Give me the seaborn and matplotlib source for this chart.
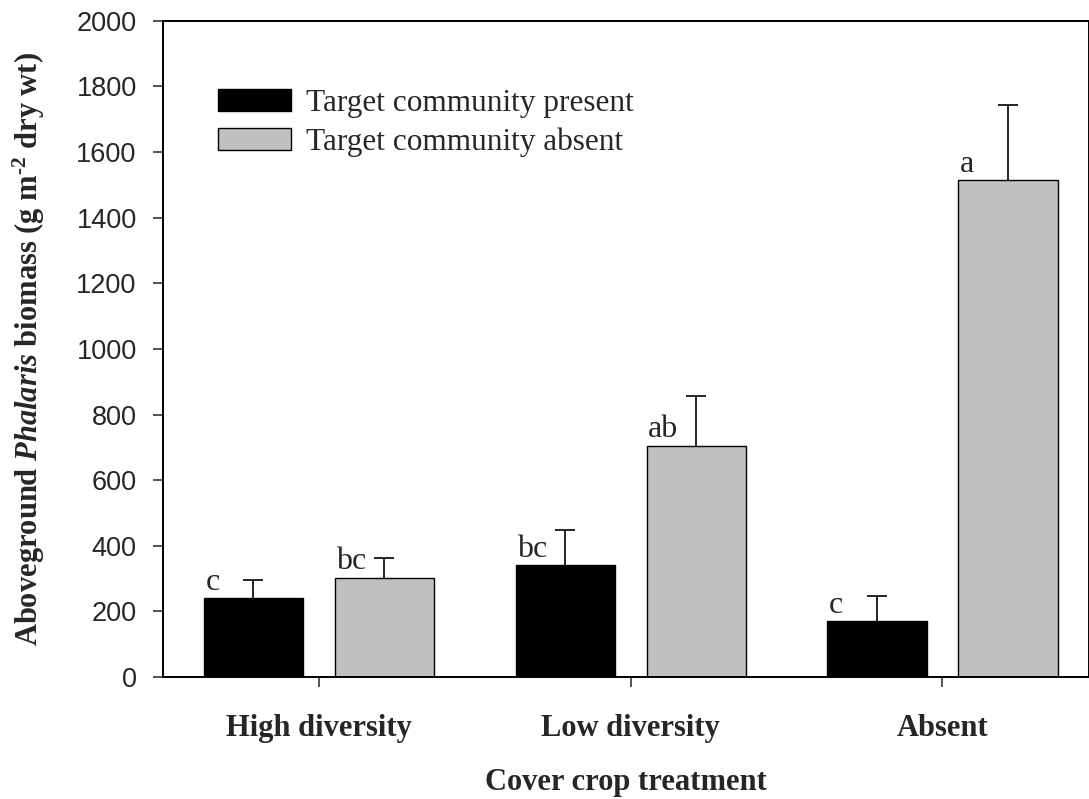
import numpy as np
import pandas as pd
import matplotlib
matplotlib.use('Agg')
import matplotlib.pyplot as plt
from matplotlib.patches import Patch
import seaborn as sns

# ── Data ─────────────────────────────────────────────────────
treatments = ['High diversity', 'Low diversity', 'Absent']
groups = ['Target community present', 'Target community absent']
present_mean = [240, 340, 170]
present_se = [56, 108, 77]
absent_mean = [303, 705, 1515]
absent_se = [59, 150, 228]
present_letters = ['c', 'bc', 'c']
absent_letters = ['bc', 'ab', 'a']
colors = ['black', '#C0C0C0']

df = pd.DataFrame({
    'treatment': treatments * 2,
    'group': [groups[0]] * 3 + [groups[1]] * 3,
    'biomass': present_mean + absent_mean,
})
errs = [present_se, absent_se]
letters = [present_letters, absent_letters]

sns.set_style('ticks')
plt.rcParams['mathtext.fontset'] = 'custom'
plt.rcParams['mathtext.rm'] = 'Liberation Serif:bold'
plt.rcParams['mathtext.bf'] = 'Liberation Serif:bold'
plt.rcParams['mathtext.it'] = 'Liberation Serif:bold:italic'

fig = plt.figure(figsize=(10.89, 7.99), dpi=100)
ax = fig.add_axes([0.1497, 0.1527, 0.8503, 0.8213])

sns.barplot(data=df, x='treatment', y='biomass', hue='group',
            order=treatments, hue_order=groups, palette=colors,
            width=0.84, gap=0.243, edgecolor='black', linewidth=1,
            errorbar=None, ax=ax, legend=False)

# upper error bars + significance letters
bar_conts = list(ax.containers)
for i, cont in enumerate(bar_conts):
    for j, bar in enumerate(cont):
        xc = bar.get_x() + bar.get_width() / 2
        h = bar.get_height()
        _, caps, _ = ax.errorbar(xc, h, yerr=[[0], [errs[i][j]]], fmt='none',
                                 ecolor='black', elinewidth=1.2, capsize=7,
                                 capthick=1.2)
        caps[0].set_visible(False)  # only the upper cap
        ax.annotate(letters[i][j], (bar.get_x(), h), xytext=(1, 6),
                    textcoords='offset points', ha='left', va='baseline',
                    fontsize=23, family='Liberation Serif')

ax.set_xlim(-0.5, 2.47)
ax.set_ylim(0, 2000)
ax.set_yticks(np.arange(0, 2001, 200))

for s in ax.spines.values():
    s.set_linewidth(1.4)
    s.set_color('black')

ax.tick_params(axis='y', direction='out', length=7, width=1.1, pad=12,
               labelsize=19.5)
ax.tick_params(axis='x', direction='out', length=7, width=1.1, pad=20)
for lab in ax.get_yticklabels():
    lab.set_family('Liberation Sans')
for lab in ax.get_xticklabels():
    lab.set_family('Liberation Serif')
    lab.set_fontweight('bold')
    lab.set_fontsize(22)

ax.set_xlabel('Cover crop treatment', family='Liberation Serif',
              fontweight='bold', fontsize=22, labelpad=18)
ax.set_ylabel(r'Aboveground $\mathit{Phalaris}$ biomass (g m$^{\text{-}2}$ dry wt)',
              family='Liberation Serif', fontweight='bold', fontsize=22)
ax.yaxis.set_label_coords(-0.125, 0.5)

handles = [Patch(facecolor=c, edgecolor='black', linewidth=1) for c in colors]
ax.legend(handles, groups, loc='upper left', bbox_to_anchor=(0.0594, 0.896),
          frameon=False, borderpad=0, borderaxespad=0, handlelength=2.35,
          handleheight=0.7, handletextpad=0.45, labelspacing=0.3,
          prop={'family': 'Liberation Serif', 'size': 22.5})

fig.savefig('out.png', dpi=100)
